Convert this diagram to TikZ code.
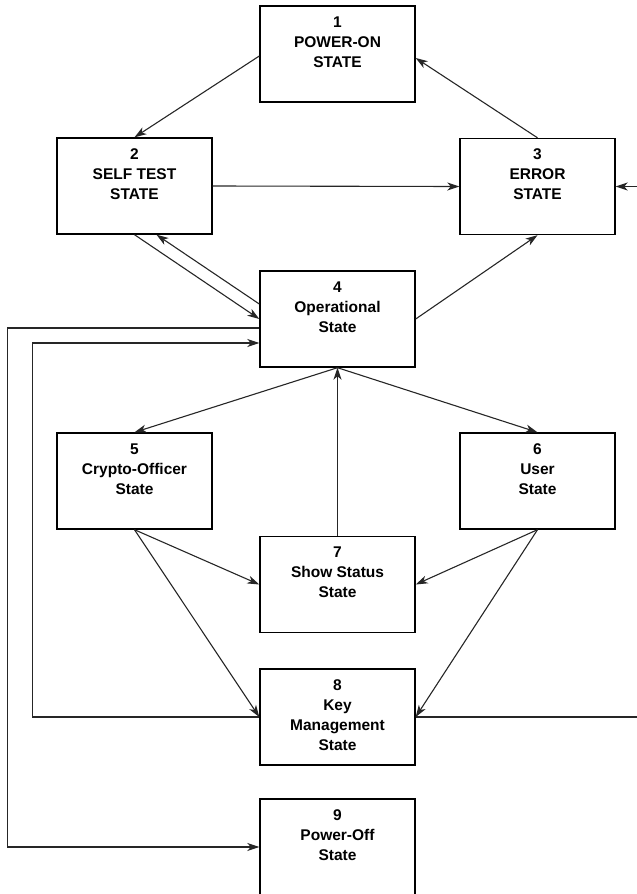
\documentclass[tikz,border=0pt]{standalone}
\usepackage{fontspec}
\setmainfont{Liberation Sans}
\usetikzlibrary{arrows.meta}
\begin{document}
\begin{tikzpicture}[x=1pt,y=-1pt,
  box/.style={draw=black,line width=1.4pt,minimum width=155pt,minimum height=96pt,inner sep=0pt},
  txt/.style={anchor=north,inner sep=0pt,align=center,font=\bfseries\fontsize{15.5}{20}\selectfont},
  arr/.style={draw=black!85,line width=1.1pt,-{Stealth[length=12pt,width=8pt,inset=3.5pt]}},
  ln/.style={draw=black!85,line width=1.1pt}]
\useasboundingbox (0,0) rectangle (637,894);
\begin{scope}
\clip (0,0) rectangle (637,894);
% boxes
\node[box] (n1) at (337.5,54) {};
\node[box] (n2) at (134.5,186) {};
\node[box] (n3) at (537.5,186.5) {};
\node[box] (n4) at (337.5,319) {};
\node[box] (n5) at (134.5,481) {};
\node[box] (n6) at (537.5,481) {};
\node[box] (n7) at (337.5,584.5) {};
\node[box] (n8) at (337.5,717) {};
\node[box] (n9) at (337.5,847) {};
% texts
\node[txt] (t1) at ([yshift=-11pt]n1.north) {1\\POWER-ON\\STATE};
\node[txt] (t2) at ([yshift=-11pt]n2.north) {2\\SELF TEST\\STATE};
\node[txt] (t3) at ([yshift=-11pt]n3.north) {3\\ERROR\\STATE};
\node[txt] (t4) at ([yshift=-11pt]n4.north) {4\\Operational\\State};
\node[txt] (t5) at ([yshift=-11pt]n5.north) {5\\Crypto-Officer\\State};
\node[txt] (t6) at ([yshift=-11pt]n6.north) {6\\User\\State};
\node[txt] (t7) at ([yshift=-11pt]n7.north) {7\\Show Status\\State};
\node[txt] (t8) at ([yshift=-11pt]n8.north) {8\\Key\\Management\\State};
\node[txt] (t9) at ([yshift=-11pt]n9.north) {9\\Power-Off\\State};
% connectors
\draw[arr] ([yshift=-2pt]n1.west) -- (n2.north);
\draw[arr] (n3.north) -- ([yshift=-4pt]n1.east);
\draw[arr] (n2.east) -- (n3.west);
\draw[arr] (n2.south) -- (n4.west);
\draw[arr] ([yshift=15pt]n4.west) -- ([xshift=22pt]n2.south);
\draw[arr] (n4.east) -- (n3.south);
\draw[arr] (n4.south) -- (n5.north);
\draw[arr] (n4.south) -- (n6.north);
\draw[arr] (n7.north) -- (n4.south);
\draw[arr] (n5.south) -- (n7.west);
\draw[arr] (n6.south) -- (n7.east);
\draw[arr] (n5.south) -- (n8.west);
\draw[arr] (n6.south) -- (n8.east);
\draw[arr] (n8.west) -- ++(-227pt,0) |- ([yshift=-24pt]n4.west);
\draw[arr] ([yshift=-9pt]n4.west) -- ++(-252pt,0) |- (n9.west);
\draw[arr] (n8.east) -- ++(240pt,0) |- (n3.east);
\end{scope}
\end{tikzpicture}
\end{document}
